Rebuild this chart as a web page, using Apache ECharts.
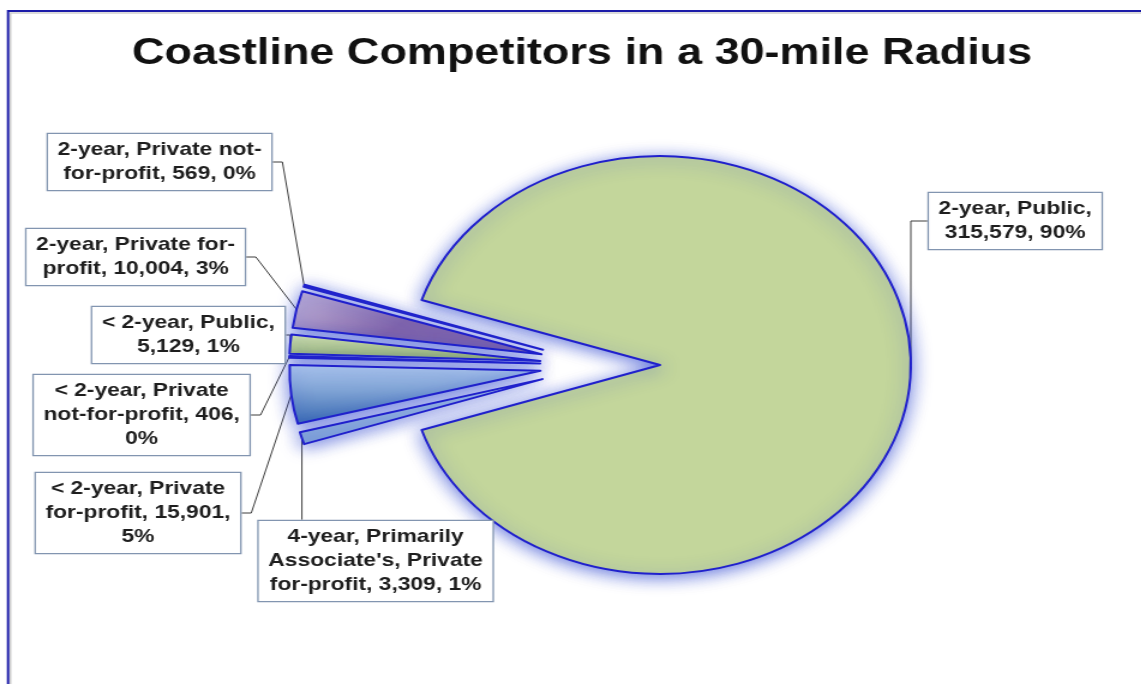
<!DOCTYPE html>
<html>
<head>
<meta charset="utf-8">
<script src="https://cdn.jsdelivr.net/npm/echarts@6/dist/echarts.min.js"></script>
<style>
html,body{margin:0;padding:0;background:#fff;overflow:hidden}
#wrap{width:1141px;height:684px;overflow:hidden;position:relative;background:#fff}
#chart{width:951px;height:684px;transform:scaleX(1.2);transform-origin:0 0}
</style>
</head>
<body>
<div id="wrap"><div id="chart"></div></div>
<script>
// ---------- data ----------
const chartTitle = 'Coastline Competitors in a 30-mile Radius';
const categories = [
  '2-year, Public',
  '2-year, Private not-for-profit',
  '2-year, Private for-profit',
  '< 2-year, Public',
  '< 2-year, Private not-for-profit',
  '< 2-year, Private for-profit',
  "4-year, Primarily Associate's, Private for-profit"
];
const values = [315579, 569, 10004, 5129, 406, 15901, 3309];

// ---------- layout / style (not data) ----------
const labelPos = [[846, 221], [133, 162], [113, 257], [157, 335], [118, 415], [115, 513], [313, 561]];
const wrapChars = 21;
const PIE_CENTER = [500, 365];
const PIE_R = 209;
const EXPLODE = 50;
const BORDER = '#2020cc';
const GLOW = 'rgba(40,65,205,0.7)';
const fills = [
  '#c3d69b',
  '#95b3d7',
  {type:'linear',x:0,y:0,x2:0.25,y2:1,colorStops:[{offset:0,color:'#c4b6da'},{offset:1,color:'#8466aa'}]},
  {type:'linear',x:0,y:0,x2:0,y2:1,colorStops:[{offset:0,color:'#d6e6b4'},{offset:1,color:'#a3c25f'}]},
  '#4f81bd',
  {type:'linear',x:0,y:0,x2:0,y2:1,colorStops:[{offset:0,color:'#b5cef0'},{offset:1,color:'#3a6cb2'}]},
  {type:'linear',x:0,y:0,x2:0,y2:1,colorStops:[{offset:0,color:'#a9c4e8'},{offset:1,color:'#84a7d8'}]}
];

function wrapText(str, max) {
  const tokens = str.match(/[^ -]+[ -]?|[ -]/g) || [];
  const lines = [];
  let cur = '';
  tokens.forEach(t => {
    if (cur && (cur + t).trimEnd().length > max) { lines.push(cur.trimEnd()); cur = t; }
    else cur += t;
  });
  if (cur.trim()) lines.push(cur.trimEnd());
  return lines.join('\n');
}

const total = values.reduce((a, b) => a + b, 0);
const startAngle = 180 + 180 * (total - values[0]) / total;

const sliceStyle = {borderColor: BORDER, borderWidth: 2, shadowBlur: 16, shadowColor: GLOW, shadowOffsetY: 3};

// exploded slices (geometry)
const sliceData = categories.map((c, i) => ({
  name: c, value: values[i], selected: true,
  itemStyle: {color: fills[i]}
}));
// same values, invisible, carrying the labels at the exploded outer edge
const labelData = categories.map((c, i) => ({name: c, value: values[i]}));

function labelLayout(params) {
  const idx = params.dataIndex;
  const p = labelPos[idx];
  if (!p) return {};
  const out = {x: p[0], y: p[1], align: 'center', verticalAlign: 'middle'};
  const pts = params.labelLinePoints;
  const w = params.labelRect.width, h = params.labelRect.height;
  if (pts && idx === 0) {
    const a = pts[0];
    out.labelLinePoints = [[a[0], a[1]], [a[0], p[1]], [p[0] - w / 2, p[1]]];
  } else if (pts && idx === 6) {
    const a = pts[0];
    out.labelLinePoints = [[a[0], a[1]], [a[0], p[1] - h / 2]];
  }
  return out;
}

const chart = echarts.init(document.getElementById('chart'), null, {renderer: 'canvas'});
chart.setOption({
  animation: false,
  title: {
    text: chartTitle,
    left: 480,
    top: 30,
    textAlign: 'center',
    textStyle: {fontFamily: 'Liberation Sans', fontWeight: 'bold', fontSize: 37.5, color: '#111'}
  },
  graphic: [
    {type: 'rect', silent: true, shape: {x: 8.75, y: 13, width: 2000, height: 2000}, style: {fill: 'none', stroke: '#cfcfcf', lineWidth: 1.5}},
    {type: 'rect', silent: true, shape: {x: 6.7, y: 11, width: 2000, height: 2000}, style: {fill: 'none', stroke: '#1b1ba8', lineWidth: 2}}
  ],
  series: [
    {
      name: 'slices',
      type: 'pie',
      center: PIE_CENTER,
      radius: PIE_R,
      startAngle: startAngle,
      clockwise: false,
      selectedMode: 'multiple',
      selectedOffset: EXPLODE,
      silent: true,
      emphasis: {disabled: true},
      label: {show: false},
      labelLine: {show: false},
      itemStyle: sliceStyle,
      select: {itemStyle: sliceStyle},
      data: sliceData
    },
    {
      name: 'labels',
      type: 'pie',
      center: PIE_CENTER,
      radius: PIE_R + EXPLODE,
      startAngle: startAngle,
      clockwise: false,
      selectedMode: false,
      silent: true,
      avoidLabelOverlap: false,
      percentPrecision: 0,
      emphasis: {disabled: true},
      itemStyle: {color: 'rgba(0,0,0,0)', borderWidth: 0},
      label: {
        show: true,
        position: 'outside',
        alignTo: 'none',
        overflow: 'none',
        formatter: p => wrapText(p.name + ', ' + echarts.format.addCommas(p.value) + ', ' + p.percent + '%', wrapChars),
        fontFamily: 'Liberation Sans',
        fontWeight: 'bold',
        fontSize: 19,
        lineHeight: 24,
        color: '#1e1e1e',
        align: 'center',
        backgroundColor: '#ffffff',
        borderColor: '#8295b0',
        borderWidth: 1.3,
        padding: [4, 8]
      },
      labelLine: {show: true, length: 10, length2: 8, smooth: false, lineStyle: {color: '#3c3c3c', width: 1}},
      labelLayout: labelLayout,
      data: labelData
    }
  ]
});
</script>
</body>
</html>
